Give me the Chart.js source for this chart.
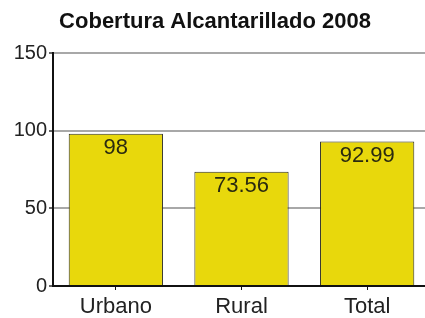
<!DOCTYPE html>
<html><head><meta charset="utf-8">
<script src="https://cdn.jsdelivr.net/npm/chart.js@4"></script>
<style>html,body{margin:0;padding:0;background:#fff;overflow:hidden}#wrap{width:430px;height:318px;position:relative}</style>
</head><body><div id="wrap"><canvas id="c"></canvas></div>
<script>
const categories = ["Urbano", "Rural", "Total"];
const values = [98, 73.56, 92.99];
const valueLabels = ["98", "73.56", "92.99"];
const yTicks = [0, 50, 100, 150];
const titleText = "Cobertura Alcantarillado 2008";

const FONT = '"Liberation Sans", Arial, sans-serif';

const labelPlugin = {
  id: 'vlabels',
  afterDatasetsDraw(chart) {
    const ctx = chart.ctx;
    const meta = chart.getDatasetMeta(0);
    ctx.save();
    ctx.font = '22px ' + FONT;
    ctx.fillStyle = '#2a2a10';
    ctx.textAlign = 'center';
    ctx.textBaseline = 'top';
    meta.data.forEach((bar, i) => {
      ctx.fillText(valueLabels[i], bar.x, bar.y + 3);
    });
    ctx.restore();
  }
};

new Chart(document.getElementById('c'), {
  type: 'bar',
  data: { labels: categories, datasets: [{ data: values, backgroundColor: '#E8D80C', borderColor: '#2b2b20', borderWidth: 1, barPercentage: 0.75, categoryPercentage: 1 }] },
  options: {
    responsive: true, maintainAspectRatio: false, animation: false,
    layout: { padding: 0 },
    plugins: {
      legend: { display: false }, tooltip: { enabled: false },
      title: { display: true, text: titleText, color: '#111', font: { family: FONT, size: 22, weight: 'bold' }, padding: { top: 9, bottom: 17.6 } }
    },
    scales: {
      x: {
        afterFit: (s) => { s.height = 32; },
        grid: { display: true, drawOnChartArea: false, drawTicks: true, tickLength: 4, color: '#111', offset: false },
        border: { display: true, color: '#111', width: 2 },
        ticks: { color: '#222', font: { family: FONT, size: 22 }, padding: 4 }
      },
      y: {
        min: 0, max: 150,
        afterFit: (s) => { s.width = 53; },
        afterBuildTicks: (s) => { s.ticks = yTicks.map(v => ({ value: v })); },
        grid: { color: (c) => c.tick && c.tick.value === 0 ? 'rgba(0,0,0,0)' : '#a8a8a8', lineWidth: 2, tickColor: '#666', tickLength: 4 },
        border: { display: true, color: '#111', width: 2 },
        ticks: { color: '#222', font: { family: FONT, size: 20 }, padding: 2 }
      }
    }
  },
  plugins: [labelPlugin]
});
</script></body></html>
